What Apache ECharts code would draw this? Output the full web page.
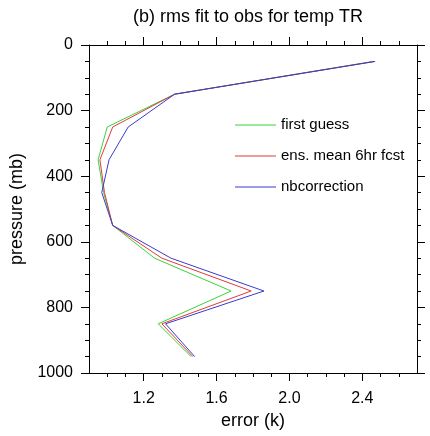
<!DOCTYPE html>
<html lang="en">
<head>
<meta charset="UTF-8">
<title>rms fit to obs</title>
<script src="https://cdn.jsdelivr.net/npm/echarts@6/dist/echarts.min.js"></script>
</head>
<body style="margin:0">
<div id="main" style="width:430px;height:436px;"></div>
<script>
// pressure levels (mb)
var levels = [50, 150, 250, 350, 450, 550, 650, 750, 850, 950];
// rms error (k) per level
var firstGuess = [2.46, 1.37, 1.00, 0.95, 0.98, 1.03, 1.26, 1.68, 1.28, 1.46];
var ensMean    = [2.47, 1.37, 1.03, 0.96, 0.985, 1.03, 1.30, 1.79, 1.30, 1.47];
var nbCorr     = [2.47, 1.37, 1.115, 1.01, 0.97, 1.03, 1.35, 1.86, 1.32, 1.48];

var seriesNames = ['first guess', 'ens. mean 6hr fcst', 'nbcorrection'];
var seriesColors = ['#3ad23a', '#e03a3a', '#3a3ad0'];

var xMajor = [1.2, 1.6, 2.0, 2.4];
var xMinor = [1.0, 1.1, 1.3, 1.4, 1.5, 1.7, 1.8, 1.9, 2.1, 2.2, 2.3, 2.5, 2.6];
var yMajor = [0, 200, 400, 600, 800, 1000];
var yMinor = [50, 100, 150, 250, 300, 350, 450, 500, 550, 650, 700, 750, 850, 900, 950];

var font = "'Liberation Sans', Arial, sans-serif";

var pair = function (vals) {
    var res = [];
    for (var i = 0; i < levels.length; i++) {
        res.push([vals[i], levels[i]]);
    }
    return res;
};

function xAx(pos, ticks, len, labels, line) {
    return {
        type: 'value', position: pos, min: 0.9, max: 2.7,
        axisLine: { show: line, onZero: false, lineStyle: { color: '#000', width: 1 } },
        axisTick: { show: true, inside: false, customValues: ticks, length: len, lineStyle: { color: '#000' } },
        axisLabel: labels ? {
            customValues: ticks, fontSize: 16, color: '#000', fontFamily: font, margin: 18,
            formatter: function (v) { return v.toFixed(1); }
        } : { show: false },
        splitLine: { show: false }
    };
}
function yAx(pos, ticks, len, labels, line) {
    return {
        type: 'value', position: pos, min: 0, max: 1000, inverse: true,
        axisLine: { show: line, onZero: false, lineStyle: { color: '#000', width: 1 } },
        axisTick: { show: true, inside: false, customValues: ticks, length: len, lineStyle: { color: '#000' } },
        axisLabel: labels ? {
            customValues: ticks, fontSize: 16, color: '#000', fontFamily: font, margin: 16,
            formatter: function (v) { return String(v); }
        } : { show: false },
        splitLine: { show: false }
    };
}

var xs = [xAx('bottom', xMajor, 8, true, true), xAx('bottom', xMinor, 4, false, false),
          xAx('top', xMajor, 8, false, true), xAx('top', xMinor, 4, false, false)];
xs[0].name = 'error (k)';
xs[0].nameLocation = 'middle';
xs[0].nameGap = 38;
xs[0].nameTextStyle = { fontSize: 18, color: '#000', fontFamily: font };

var ys = [yAx('left', yMajor, 8, true, true), yAx('left', yMinor, 4, false, false),
          yAx('right', yMajor, 8, false, true), yAx('right', yMinor, 4, false, false)];
ys[0].name = 'pressure (mb)';
ys[0].nameLocation = 'middle';
ys[0].nameGap = 60;
ys[0].nameTextStyle = { fontSize: 18, color: '#000', fontFamily: font };

var myChart = echarts.init(document.getElementById('main'));
var datasets = [firstGuess, ensMean, nbCorr];
var series = [];
for (var i = 0; i < 3; i++) {
    series.push({
        name: seriesNames[i], type: 'line', data: pair(datasets[i]),
        xAxisIndex: 0, yAxisIndex: 0, symbol: 'none', animation: false,
        lineStyle: { color: seriesColors[i], width: 1 },
        itemStyle: { color: seriesColors[i] }
    });
}

var option = {
    animation: false,
    title: {
        text: '(b) rms fit to obs for temp TR',
        left: 133, top: 8, padding: 0,
        textStyle: { fontSize: 18, fontWeight: 'normal', color: '#000', fontFamily: font }
    },
    legend: {
        orient: 'vertical', left: 235, top: 117, padding: 0,
        icon: 'rect', itemWidth: 41, itemHeight: 1, itemGap: 15,
        textStyle: { fontSize: 15, color: '#000', fontFamily: font, lineHeight: 16 },
        data: seriesNames
    },
    grid: { left: 89, right: 13, top: 45, bottom: 63, containLabel: false },
    xAxis: xs,
    yAxis: ys,
    series: series
};
myChart.setOption(option);
</script>
</body>
</html>
